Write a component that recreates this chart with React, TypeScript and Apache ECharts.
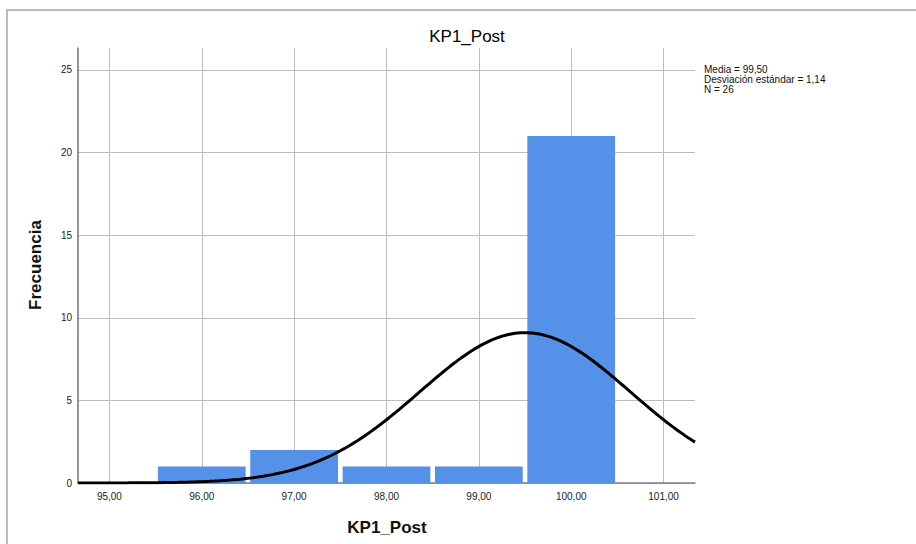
import React, { useEffect, useRef } from "react";
import * as echarts from "echarts";

// Histogram bins (centre of each bin) and their counts
const binCenters = [96, 97, 98, 99, 100];
const frequencies = [1, 2, 1, 1, 21];
const binWidth = 1;

// Axis ticks
const xTicks = [95, 96, 97, 98, 99, 100, 101];
const yTicks = [0, 5, 10, 15, 20, 25];
const xRange = [94.66, 101.34];
const yMax = 26.33;

// Summary statistics shown beside the plot
const mean = 99.5;
const stdDev = 1.14;
const sampleSize = 26;

const TITLE = "KP1_Post";
const X_NAME = "KP1_Post";
const Y_NAME = "Frecuencia";

const comma = (v: number, d: number) => v.toFixed(d).replace(".", ",");

// Normal density scaled to counts, built from the stated mean and deviation
function normalCurve(): number[][] {
  const pts: number[][] = [];
  const steps = 240;
  const peak = (sampleSize * binWidth) / (stdDev * Math.sqrt(2 * Math.PI));
  for (let i = 0; i <= steps; i++) {
    const x = xRange[0] + ((xRange[1] - xRange[0]) * i) / steps;
    const z = (x - mean) / stdDev;
    pts.push([x, peak * Math.exp(-0.5 * z * z)]);
  }
  return pts;
}

const FONT = "'Liberation Sans', Arial, sans-serif";

export default function App() {
  const ref = useRef<HTMLDivElement>(null);

  useEffect(() => {
    if (!ref.current) return;
    const chart = echarts.init(ref.current, undefined, { renderer: "svg" });
    const barData = binCenters.map((c, i) => [c, frequencies[i]]);

    chart.setOption({
      animation: false,
      backgroundColor: "#ffffff",
      textStyle: { fontFamily: FONT },
      grid: { left: 78, top: 48, right: 221, bottom: 61, containLabel: false },
      xAxis: {
        type: "value",
        min: xRange[0],
        max: xRange[1],
        axisLine: { show: true, onZero: false, lineStyle: { color: "#808080", width: 1.5 } },
        axisTick: { show: false, customValues: xTicks },
        axisLabel: {
          customValues: xTicks,
          formatter: (v: number) => comma(v, 2),
          color: "#222",
          fontSize: 10,
          fontFamily: FONT,
          margin: 8,
        },
        splitLine: { show: true, lineStyle: { color: "#bdbdbd", width: 1 } },
      },
      yAxis: {
        type: "value",
        min: 0,
        max: yMax,
        axisLine: { show: true, lineStyle: { color: "#707070", width: 1.5 } },
        axisTick: { show: false, customValues: yTicks },
        axisLabel: {
          customValues: yTicks,
          color: "#222",
          fontSize: 10,
          fontFamily: FONT,
          margin: 6,
        },
        splitLine: { show: true, lineStyle: { color: "#bdbdbd", width: 1 } },
      },
      graphic: [
        {
          type: "rect",
          shape: { x: 7, y: 10, width: 1000, height: 1000 },
          style: { fill: "none", stroke: "#bcbcbc", lineWidth: 2 },
          silent: true,
        },
        {
          type: "text",
          x: 467,
          y: 36,
          style: {
            text: TITLE,
            font: `normal 17px ${FONT}`,
            fill: "#000",
            align: "center",
            verticalAlign: "middle",
          },
        },
        {
          type: "text",
          x: 387,
          y: 527,
          style: {
            text: X_NAME,
            font: `bold 17px ${FONT}`,
            fill: "#111",
            align: "center",
            verticalAlign: "middle",
          },
        },
        {
          type: "text",
          x: 35,
          y: 265,
          rotation: Math.PI / 2,
          style: {
            text: Y_NAME,
            font: `bold 17px ${FONT}`,
            fill: "#111",
            align: "center",
            verticalAlign: "middle",
          },
        },
        {
          type: "text",
          x: 704,
          y: 64,
          style: {
            text: `Media = ${comma(mean, 2)}\nDesviación estándar = ${comma(stdDev, 2)}\nN = ${sampleSize}`,
            font: `normal 10px ${FONT}`,
            lineHeight: 10,
            fill: "#111",
            align: "left",
            verticalAlign: "top",
          },
        },
      ],
      series: [
        {
          type: "custom",
          name: "Frecuencia",
          encode: { x: 0, y: 1 },
          data: barData,
          z: 2,
          renderItem: (_params: any, api: any) => {
            const c = api.value(0);
            const v = api.value(1);
            const p0 = api.coord([c - binWidth / 2, v]);
            const p1 = api.coord([c + binWidth / 2, 0]);
            const inset = 2.3;
            return {
              type: "rect",
              shape: {
                x: p0[0] + inset,
                y: p0[1],
                width: p1[0] - p0[0] - inset * 2,
                height: p1[1] - p0[1],
              },
              style: { fill: "#5590E9" },
            };
          },
        },
        {
          type: "line",
          name: "Normal",
          data: normalCurve(),
          showSymbol: false,
          symbol: "none",
          smooth: false,
          z: 5,
          lineStyle: { color: "#000000", width: 3 },
        },
      ],
    });

    return () => chart.dispose();
  }, []);

  return (
    <div
      ref={ref}
      style={{ position: "fixed", left: 0, top: 0, width: 916, height: 544, background: "#fff" }}
    />
  );
}
